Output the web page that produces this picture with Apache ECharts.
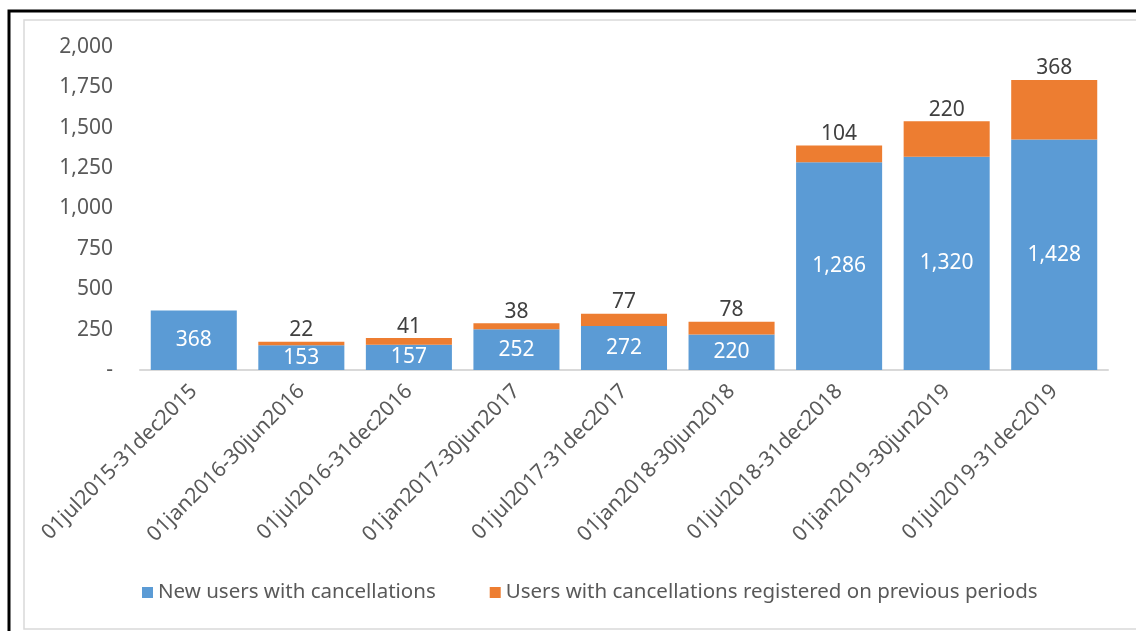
<!DOCTYPE html>
<html>
<head>
<meta charset="utf-8">
<script src="https://cdn.jsdelivr.net/npm/echarts@6/dist/echarts.min.js"></script>
<style>
  html, body { margin: 0; padding: 0; background: #fff; }
  #main { width: 1136px; height: 631px; }
</style>
</head>
<body>
<div id="main"></div>
<script>
// periods and the two stacked series
var periods = ['01jul2015-31dec2015', '01jan2016-30jun2016', '01jul2016-31dec2016',
  '01jan2017-30jun2017', '01jul2017-31dec2017', '01jan2018-30jun2018',
  '01jul2018-31dec2018', '01jan2019-30jun2019', '01jul2019-31dec2019']
var newUsers = [368, 153, 157, 252, 272, 220, 1286, 1320, 1428]
var previousUsers = [null, 22, 41, 38, 77, 78, 104, 220, 368]

var fontName = 'Noto Sans'
var fs = 21
var fmt = function (v) {
  return v === 0 ? '-' : v.toLocaleString('en-US')
}

var myChart = echarts.init(document.getElementById('main'))
var option = {
  animation: false,
  textStyle: { fontFamily: fontName },
  graphic: [
    // outer black frame
    { type: 'rect', shape: { x: 9, y: 11, width: 1200, height: 700 },
      style: { fill: 'none', stroke: '#000', lineWidth: 3 }, silent: true },
    // inner gray chart area border
    { type: 'rect', shape: { x: 24, y: 20, width: 1200, height: 609 },
      style: { fill: 'none', stroke: '#d9d9d9', lineWidth: 1.5 }, silent: true }
  ],
  grid: { left: 140, right: 28, top: 47, bottom: 261 },
  legend: {
    bottom: 23,
    left: 137,
    itemWidth: 11,
    itemHeight: 11,
    itemGap: 54,
    icon: 'rect',
    textStyle: { color: '#595959', fontSize: 20.5, fontFamily: fontName },
    data: ['New users with cancellations', 'Users with cancellations registered on previous periods']
  },
  xAxis: {
    type: 'category',
    data: periods,
    axisLine: { lineStyle: { color: '#d9d9d9', width: 2 } },
    axisTick: { show: false },
    axisLabel: {
      rotate: 45,
      interval: 0,
      margin: 18,
      color: '#595959',
      fontSize: fs,
      fontFamily: fontName
    }
  },
  yAxis: {
    type: 'value',
    min: 0,
    max: 2000,
    interval: 250,
    splitLine: { show: false },
    axisLine: { show: false },
    axisTick: { show: false },
    axisLabel: {
      margin: 27,
      color: '#595959',
      fontSize: fs,
      fontFamily: fontName,
      formatter: fmt
    }
  },
  series: [
    {
      name: 'New users with cancellations',
      type: 'bar',
      stack: 'total',
      barCategoryGap: '20%',
      data: newUsers,
      itemStyle: { color: '#5b9bd5' },
      label: {
        show: true,
        position: 'inside',
        color: '#fff',
        fontSize: fs,
        fontFamily: fontName,
        formatter: function (p) { return fmt(p.value) }
      }
    },
    {
      name: 'Users with cancellations registered on previous periods',
      type: 'bar',
      stack: 'total',
      barCategoryGap: '20%',
      data: previousUsers,
      itemStyle: { color: '#ed7d31' },
      label: {
        show: true,
        position: 'top',
        distance: 1,
        color: '#404040',
        fontSize: fs,
        fontFamily: fontName,
        formatter: function (p) { return fmt(p.value) }
      }
    }
  ]
}
myChart.setOption(option)
</script>
</body>
</html>
